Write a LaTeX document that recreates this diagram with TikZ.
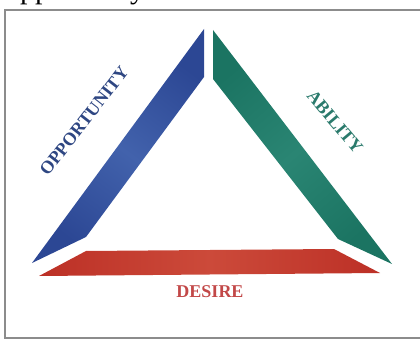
\documentclass[tikz,border=0pt]{standalone}
\usepackage{fontspec}
\setmainfont{Liberation Serif}
\begin{document}
\begin{tikzpicture}[x=1pt,y=-1pt]
\definecolor{frameg}{HTML}{8C8C8C}
\definecolor{bandblue}{HTML}{2C4794}
\definecolor{bandbluel}{HTML}{4262AC}
\definecolor{bandgreen}{HTML}{1B7462}
\definecolor{bandgreenl}{HTML}{2A8573}
\definecolor{bandred}{HTML}{BC3026}
\definecolor{bandredl}{HTML}{CC4A3A}
\definecolor{txtblue}{HTML}{2E4682}
\definecolor{txtgreen}{HTML}{2A7A6C}
\definecolor{txtred}{HTML}{C24848}
\tikzset{
  lbl/.style={inner sep=0pt, font=\fontsize{18}{20}\selectfont\bfseries},
}
\useasboundingbox (0,0) rectangle (420,339);
\begin{scope}
\clip (0,0) rectangle (420,339);
% partially visible text at the top
\node[anchor=base west, inner sep=0pt, font=\fontsize{30}{32}\selectfont] (toptext) at (20,-1.5) {pportunity};
% frame
\draw[frameg, line width=2pt] (5,339.5) -- (5,10) -- (421,10);
\draw[frameg, line width=2pt] (4,338) -- (421,338);
\end{scope}
% bands
\shade[left color=bandblue, right color=bandblue, middle color=bandbluel, shading angle=-37]
  (204,29) -- (204,77) -- (86,237) -- (32,263) -- cycle;
\shade[left color=bandgreen, right color=bandgreen, middle color=bandgreenl, shading angle=40]
  (213,30) -- (213,79) -- (338,239) -- (392,264) -- cycle;
\shade[left color=bandred, right color=bandred, middle color=bandredl]
  (86,251) -- (334,249) -- (380,273) -- (39,276) -- cycle;
% labels
\node[lbl, text=txtblue, rotate=52] (opp) at (84,121) {OPPORTUNITY};
\node[lbl, text=txtgreen, rotate=-50] (abi) at (335,122) {ABILITY};
\node[lbl, text=txtred] (des) at (210,292) {DESIRE};
\end{tikzpicture}
\end{document}
